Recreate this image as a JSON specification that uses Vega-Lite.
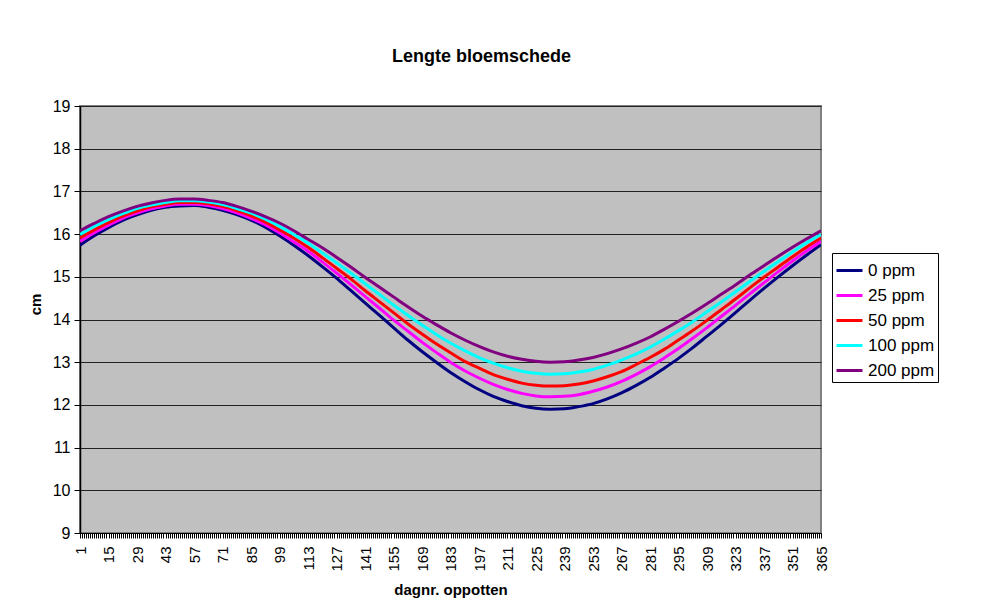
{
  "$schema": "https://vega.github.io/schema/vega-lite/v6.json",
  "width": 741,
  "height": 427,
  "autosize": "none",
  "padding": {"left": 80, "top": 106, "right": 160, "bottom": 82},
  "background": "white",
  "title": {"text": "Lengte bloemschede", "fontSize": 18, "fontWeight": "bold", "color": "black", "anchor": "middle", "frame": "group", "dx": 31, "baseline": "alphabetic", "offset": 18},
  "config": {
    "font": "Liberation Sans",
    "view": {"fill": "#c0c0c0", "stroke": "#808080", "strokeWidth": 2}
  },
  "data": {"values": [
{"d":1,"s":"0 ppm","v":15.74},{"d":8,"s":"0 ppm","v":15.96},{"d":15,"s":"0 ppm","v":16.15},{"d":22,"s":"0 ppm","v":16.32},{"d":29,"s":"0 ppm","v":16.45},{"d":36,"s":"0 ppm","v":16.56},{"d":43,"s":"0 ppm","v":16.63},{"d":50,"s":"0 ppm","v":16.66},{"d":57,"s":"0 ppm","v":16.67},{"d":64,"s":"0 ppm","v":16.63},{"d":71,"s":"0 ppm","v":16.56},{"d":78,"s":"0 ppm","v":16.46},{"d":85,"s":"0 ppm","v":16.33},{"d":92,"s":"0 ppm","v":16.16},{"d":99,"s":"0 ppm","v":15.96},{"d":106,"s":"0 ppm","v":15.74},{"d":113,"s":"0 ppm","v":15.50},{"d":120,"s":"0 ppm","v":15.24},{"d":127,"s":"0 ppm","v":14.97},{"d":134,"s":"0 ppm","v":14.68},{"d":141,"s":"0 ppm","v":14.39},{"d":148,"s":"0 ppm","v":14.10},{"d":155,"s":"0 ppm","v":13.81},{"d":162,"s":"0 ppm","v":13.52},{"d":169,"s":"0 ppm","v":13.25},{"d":176,"s":"0 ppm","v":13.00},{"d":183,"s":"0 ppm","v":12.76},{"d":190,"s":"0 ppm","v":12.55},{"d":197,"s":"0 ppm","v":12.36},{"d":204,"s":"0 ppm","v":12.20},{"d":211,"s":"0 ppm","v":12.08},{"d":218,"s":"0 ppm","v":11.98},{"d":225,"s":"0 ppm","v":11.92},{"d":232,"s":"0 ppm","v":11.90},{"d":239,"s":"0 ppm","v":11.91},{"d":246,"s":"0 ppm","v":11.96},{"d":253,"s":"0 ppm","v":12.03},{"d":260,"s":"0 ppm","v":12.14},{"d":267,"s":"0 ppm","v":12.28},{"d":274,"s":"0 ppm","v":12.45},{"d":281,"s":"0 ppm","v":12.64},{"d":288,"s":"0 ppm","v":12.86},{"d":295,"s":"0 ppm","v":13.09},{"d":302,"s":"0 ppm","v":13.34},{"d":309,"s":"0 ppm","v":13.61},{"d":316,"s":"0 ppm","v":13.88},{"d":323,"s":"0 ppm","v":14.16},{"d":330,"s":"0 ppm","v":14.45},{"d":337,"s":"0 ppm","v":14.73},{"d":344,"s":"0 ppm","v":15.00},{"d":351,"s":"0 ppm","v":15.26},{"d":358,"s":"0 ppm","v":15.51},{"d":365,"s":"0 ppm","v":15.75},
{"d":1,"s":"25 ppm","v":15.83},{"d":8,"s":"25 ppm","v":16.03},{"d":15,"s":"25 ppm","v":16.21},{"d":22,"s":"25 ppm","v":16.37},{"d":29,"s":"25 ppm","v":16.49},{"d":36,"s":"25 ppm","v":16.59},{"d":43,"s":"25 ppm","v":16.66},{"d":50,"s":"25 ppm","v":16.70},{"d":57,"s":"25 ppm","v":16.70},{"d":64,"s":"25 ppm","v":16.67},{"d":71,"s":"25 ppm","v":16.60},{"d":78,"s":"25 ppm","v":16.50},{"d":85,"s":"25 ppm","v":16.37},{"d":92,"s":"25 ppm","v":16.22},{"d":99,"s":"25 ppm","v":16.03},{"d":106,"s":"25 ppm","v":15.82},{"d":113,"s":"25 ppm","v":15.60},{"d":120,"s":"25 ppm","v":15.35},{"d":127,"s":"25 ppm","v":15.09},{"d":134,"s":"25 ppm","v":14.82},{"d":141,"s":"25 ppm","v":14.54},{"d":148,"s":"25 ppm","v":14.27},{"d":155,"s":"25 ppm","v":13.99},{"d":162,"s":"25 ppm","v":13.73},{"d":169,"s":"25 ppm","v":13.47},{"d":176,"s":"25 ppm","v":13.23},{"d":183,"s":"25 ppm","v":13.00},{"d":190,"s":"25 ppm","v":12.80},{"d":197,"s":"25 ppm","v":12.63},{"d":204,"s":"25 ppm","v":12.48},{"d":211,"s":"25 ppm","v":12.36},{"d":218,"s":"25 ppm","v":12.27},{"d":225,"s":"25 ppm","v":12.21},{"d":232,"s":"25 ppm","v":12.19},{"d":239,"s":"25 ppm","v":12.20},{"d":246,"s":"25 ppm","v":12.24},{"d":253,"s":"25 ppm","v":12.32},{"d":260,"s":"25 ppm","v":12.42},{"d":267,"s":"25 ppm","v":12.55},{"d":274,"s":"25 ppm","v":12.71},{"d":281,"s":"25 ppm","v":12.89},{"d":288,"s":"25 ppm","v":13.10},{"d":295,"s":"25 ppm","v":13.32},{"d":302,"s":"25 ppm","v":13.56},{"d":309,"s":"25 ppm","v":13.81},{"d":316,"s":"25 ppm","v":14.07},{"d":323,"s":"25 ppm","v":14.33},{"d":330,"s":"25 ppm","v":14.60},{"d":337,"s":"25 ppm","v":14.86},{"d":344,"s":"25 ppm","v":15.12},{"d":351,"s":"25 ppm","v":15.37},{"d":358,"s":"25 ppm","v":15.61},{"d":365,"s":"25 ppm","v":15.83},
{"d":1,"s":"50 ppm","v":15.91},{"d":8,"s":"50 ppm","v":16.10},{"d":15,"s":"50 ppm","v":16.27},{"d":22,"s":"50 ppm","v":16.42},{"d":29,"s":"50 ppm","v":16.54},{"d":36,"s":"50 ppm","v":16.64},{"d":43,"s":"50 ppm","v":16.70},{"d":50,"s":"50 ppm","v":16.74},{"d":57,"s":"50 ppm","v":16.74},{"d":64,"s":"50 ppm","v":16.71},{"d":71,"s":"50 ppm","v":16.65},{"d":78,"s":"50 ppm","v":16.55},{"d":85,"s":"50 ppm","v":16.43},{"d":92,"s":"50 ppm","v":16.28},{"d":99,"s":"50 ppm","v":16.10},{"d":106,"s":"50 ppm","v":15.91},{"d":113,"s":"50 ppm","v":15.69},{"d":120,"s":"50 ppm","v":15.45},{"d":127,"s":"50 ppm","v":15.20},{"d":134,"s":"50 ppm","v":14.95},{"d":141,"s":"50 ppm","v":14.68},{"d":148,"s":"50 ppm","v":14.42},{"d":155,"s":"50 ppm","v":14.16},{"d":162,"s":"50 ppm","v":13.90},{"d":169,"s":"50 ppm","v":13.66},{"d":176,"s":"50 ppm","v":13.43},{"d":183,"s":"50 ppm","v":13.22},{"d":190,"s":"50 ppm","v":13.02},{"d":197,"s":"50 ppm","v":12.86},{"d":204,"s":"50 ppm","v":12.71},{"d":211,"s":"50 ppm","v":12.60},{"d":218,"s":"50 ppm","v":12.51},{"d":225,"s":"50 ppm","v":12.46},{"d":232,"s":"50 ppm","v":12.44},{"d":239,"s":"50 ppm","v":12.45},{"d":246,"s":"50 ppm","v":12.49},{"d":253,"s":"50 ppm","v":12.56},{"d":260,"s":"50 ppm","v":12.66},{"d":267,"s":"50 ppm","v":12.78},{"d":274,"s":"50 ppm","v":12.94},{"d":281,"s":"50 ppm","v":13.11},{"d":288,"s":"50 ppm","v":13.30},{"d":295,"s":"50 ppm","v":13.52},{"d":302,"s":"50 ppm","v":13.74},{"d":309,"s":"50 ppm","v":13.98},{"d":316,"s":"50 ppm","v":14.23},{"d":323,"s":"50 ppm","v":14.48},{"d":330,"s":"50 ppm","v":14.74},{"d":337,"s":"50 ppm","v":14.99},{"d":344,"s":"50 ppm","v":15.23},{"d":351,"s":"50 ppm","v":15.47},{"d":358,"s":"50 ppm","v":15.70},{"d":365,"s":"50 ppm","v":15.91},
{"d":1,"s":"100 ppm","v":15.99},{"d":8,"s":"100 ppm","v":16.18},{"d":15,"s":"100 ppm","v":16.34},{"d":22,"s":"100 ppm","v":16.48},{"d":29,"s":"100 ppm","v":16.60},{"d":36,"s":"100 ppm","v":16.68},{"d":43,"s":"100 ppm","v":16.74},{"d":50,"s":"100 ppm","v":16.78},{"d":57,"s":"100 ppm","v":16.78},{"d":64,"s":"100 ppm","v":16.75},{"d":71,"s":"100 ppm","v":16.69},{"d":78,"s":"100 ppm","v":16.60},{"d":85,"s":"100 ppm","v":16.49},{"d":92,"s":"100 ppm","v":16.35},{"d":99,"s":"100 ppm","v":16.18},{"d":106,"s":"100 ppm","v":15.99},{"d":113,"s":"100 ppm","v":15.79},{"d":120,"s":"100 ppm","v":15.56},{"d":127,"s":"100 ppm","v":15.33},{"d":134,"s":"100 ppm","v":15.09},{"d":141,"s":"100 ppm","v":14.84},{"d":148,"s":"100 ppm","v":14.59},{"d":155,"s":"100 ppm","v":14.34},{"d":162,"s":"100 ppm","v":14.10},{"d":169,"s":"100 ppm","v":13.87},{"d":176,"s":"100 ppm","v":13.65},{"d":183,"s":"100 ppm","v":13.45},{"d":190,"s":"100 ppm","v":13.27},{"d":197,"s":"100 ppm","v":13.11},{"d":204,"s":"100 ppm","v":12.98},{"d":211,"s":"100 ppm","v":12.87},{"d":218,"s":"100 ppm","v":12.79},{"d":225,"s":"100 ppm","v":12.74},{"d":232,"s":"100 ppm","v":12.72},{"d":239,"s":"100 ppm","v":12.73},{"d":246,"s":"100 ppm","v":12.77},{"d":253,"s":"100 ppm","v":12.83},{"d":260,"s":"100 ppm","v":12.93},{"d":267,"s":"100 ppm","v":13.05},{"d":274,"s":"100 ppm","v":13.19},{"d":281,"s":"100 ppm","v":13.35},{"d":288,"s":"100 ppm","v":13.54},{"d":295,"s":"100 ppm","v":13.74},{"d":302,"s":"100 ppm","v":13.95},{"d":309,"s":"100 ppm","v":14.18},{"d":316,"s":"100 ppm","v":14.41},{"d":323,"s":"100 ppm","v":14.65},{"d":330,"s":"100 ppm","v":14.89},{"d":337,"s":"100 ppm","v":15.13},{"d":344,"s":"100 ppm","v":15.36},{"d":351,"s":"100 ppm","v":15.58},{"d":358,"s":"100 ppm","v":15.80},{"d":365,"s":"100 ppm","v":15.99},
{"d":1,"s":"200 ppm","v":16.08},{"d":8,"s":"200 ppm","v":16.25},{"d":15,"s":"200 ppm","v":16.41},{"d":22,"s":"200 ppm","v":16.54},{"d":29,"s":"200 ppm","v":16.65},{"d":36,"s":"200 ppm","v":16.73},{"d":43,"s":"200 ppm","v":16.79},{"d":50,"s":"200 ppm","v":16.82},{"d":57,"s":"200 ppm","v":16.82},{"d":64,"s":"200 ppm","v":16.79},{"d":71,"s":"200 ppm","v":16.74},{"d":78,"s":"200 ppm","v":16.65},{"d":85,"s":"200 ppm","v":16.54},{"d":92,"s":"200 ppm","v":16.41},{"d":99,"s":"200 ppm","v":16.26},{"d":106,"s":"200 ppm","v":16.08},{"d":113,"s":"200 ppm","v":15.88},{"d":120,"s":"200 ppm","v":15.68},{"d":127,"s":"200 ppm","v":15.46},{"d":134,"s":"200 ppm","v":15.23},{"d":141,"s":"200 ppm","v":14.99},{"d":148,"s":"200 ppm","v":14.76},{"d":155,"s":"200 ppm","v":14.53},{"d":162,"s":"200 ppm","v":14.30},{"d":169,"s":"200 ppm","v":14.08},{"d":176,"s":"200 ppm","v":13.88},{"d":183,"s":"200 ppm","v":13.69},{"d":190,"s":"200 ppm","v":13.52},{"d":197,"s":"200 ppm","v":13.37},{"d":204,"s":"200 ppm","v":13.24},{"d":211,"s":"200 ppm","v":13.14},{"d":218,"s":"200 ppm","v":13.07},{"d":225,"s":"200 ppm","v":13.02},{"d":232,"s":"200 ppm","v":13.00},{"d":239,"s":"200 ppm","v":13.01},{"d":246,"s":"200 ppm","v":13.05},{"d":253,"s":"200 ppm","v":13.11},{"d":260,"s":"200 ppm","v":13.20},{"d":267,"s":"200 ppm","v":13.31},{"d":274,"s":"200 ppm","v":13.44},{"d":281,"s":"200 ppm","v":13.59},{"d":288,"s":"200 ppm","v":13.77},{"d":295,"s":"200 ppm","v":13.96},{"d":302,"s":"200 ppm","v":14.16},{"d":309,"s":"200 ppm","v":14.37},{"d":316,"s":"200 ppm","v":14.59},{"d":323,"s":"200 ppm","v":14.81},{"d":330,"s":"200 ppm","v":15.04},{"d":337,"s":"200 ppm","v":15.26},{"d":344,"s":"200 ppm","v":15.48},{"d":351,"s":"200 ppm","v":15.69},{"d":358,"s":"200 ppm","v":15.89},{"d":365,"s":"200 ppm","v":16.08}
  ]},
  "mark": {"type": "line", "strokeWidth": 3, "interpolate": "monotone", "clip": true},
  "encoding": {
    "x": {
      "field": "d", "type": "quantitative",
      "scale": {"domain": [1, 365], "nice": false, "zero": false},
      "axis": {
        "title": "dagnr. oppotten", "titleFontSize": 15, "titleFontWeight": "bold", "titleColor": "black", "titleY": 61, "titleBaseline": "alphabetic",
        "tickCount": 365, "labelExpr": "(datum.value - 1) % 14 === 0 ? datum.label : ''",
        "labelOverlap": false, "labelFlush": false, "labelBound": false,
        "labelAngle": -90, "labelFontSize": 15, "labelColor": "black", "labelPadding": 8,
        "tickSize": 5, "tickColor": "black", "tickWidth": 1,
        "domainColor": "black", "domainWidth": 1, "grid": false
      }
    },
    "y": {
      "field": "v", "type": "quantitative",
      "scale": {"domain": [9, 19], "nice": false, "zero": false},
      "axis": {
        "title": "cm", "titleFontSize": 15, "titleFontWeight": "bold", "titleColor": "black", "titleX": -40, "titleY": 198, "titleAngle": -90, "titleBaseline": "alphabetic", "titleAlign": "center",
        "values": [9, 10, 11, 12, 13, 14, 15, 16, 17, 18, 19],
        "labelFontSize": 16, "labelColor": "black", "labelPadding": 4,
        "tickSize": 6, "tickColor": "black", "domainColor": "black", "domainWidth": 1.5,
        "grid": true, "gridColor": "#222222", "gridWidth": 1
      }
    },
    "color": {
      "field": "s", "type": "nominal",
      "scale": {"domain": ["0 ppm", "25 ppm", "50 ppm", "100 ppm", "200 ppm"], "range": ["#000080", "#ff00ff", "#ff0000", "#00ffff", "#800080"]},
      "legend": {
        "title": null, "orient": "none", "legendX": 752, "legendY": 147, "direction": "vertical",
        "strokeColor": "black", "fillColor": "white", "padding": 3, "cornerRadius": 0,
        "symbolType": "stroke", "symbolSize": 676, "symbolStrokeWidth": 3,
        "labelFontSize": 17, "labelColor": "black", "labelOffset": 4, "rowPadding": 2
      }
    }
  }
}
